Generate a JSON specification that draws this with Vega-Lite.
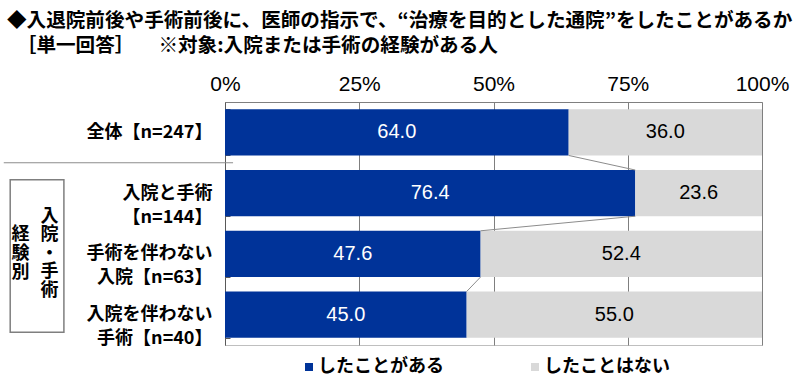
{
  "$schema": "https://vega.github.io/schema/vega-lite/v6.json",
  "width": 537,
  "height": 243,
  "autosize": {"type": "none"},
  "padding": {"left": 225, "top": 102, "right": 38, "bottom": 38},
  "background": "white",
  "title": {
    "text": ["◆入退院前後や手術前後に、医師の指示で、“治療を目的とした通院”をしたことがあるか", "\u200b　［単一回答］　\u2002 ※対象:入院または手術の経験がある人"],
    "anchor": "start",
    "frame": "group",
    "dx": -218,
    "font": "Noto Sans CJK JP",
    "fontSize": 19.6,
    "fontWeight": "bold",
    "color": "black",
    "lineHeight": 25,
    "offset": 16
  },
  "datasets": {
    "bars": [
      {"group": "全体【n=247】", "response": "したことがある", "value": 64.0, "order": 1},
      {"group": "全体【n=247】", "response": "したことはない", "value": 36.0, "order": 1},
      {"group": "入院と手術|【n=144】", "response": "したことがある", "value": 76.4, "order": 2},
      {"group": "入院と手術|【n=144】", "response": "したことはない", "value": 23.6, "order": 2},
      {"group": "手術を伴わない|入院【n=63】", "response": "したことがある", "value": 47.6, "order": 3},
      {"group": "手術を伴わない|入院【n=63】", "response": "したことはない", "value": 52.4, "order": 3},
      {"group": "入院を伴わない|手術【n=40】", "response": "したことがある", "value": 45.0, "order": 4},
      {"group": "入院を伴わない|手術【n=40】", "response": "したことはない", "value": 55.0, "order": 4}
    ]
  },
  "layer": [
    {
      "data": {"name": "bars"},
      "transform": [
        {"stack": "value", "groupby": ["group"], "sort": [{"field": "response", "order": "ascending"}], "as": ["x0", "x1"]},
        {"calculate": "(datum.x0 + datum.x1) / 2", "as": "mid"}
      ],
      "encoding": {
        "y": {
          "field": "group",
          "type": "nominal",
          "sort": {"field": "order", "op": "min"},
          "scale": {"paddingInner": 0.24, "paddingOuter": 0.12},
          "axis": {
            "orient": "left",
            "title": null,
            "domainColor": "#595959",
            "ticks": true,
            "tickBand": "extent",
            "tickSize": -5,
            "tickColor": "#595959",
            "labelExpr": "datum.value ? split(datum.value, '|') : ''",
            "labelFont": "Noto Sans CJK JP",
            "labelFontSize": 18,
            "labelFontWeight": "bold",
            "labelColor": "black",
            "labelPadding": 18,
            "labelLineHeight": 24,
            "labelLimit": 300,
            "grid": false
          }
        }
      },
      "layer": [
        {
          "mark": {"type": "bar"},
          "encoding": {
            "x": {
              "field": "x0",
              "type": "quantitative",
              "scale": {"domain": [0, 100], "nice": false},
              "axis": {
                "orient": "top",
                "title": null,
                "values": [0, 25, 50, 75, 100],
                "labelExpr": "datum.value + '%'",
                "ticks": false,
                "domainColor": "#7f7f7f",
                "grid": true,
                "gridColor": "#7f7f7f",
                "gridOpacity": 1,
                "labelFont": "Liberation Sans Narrow, Liberation Sans",
                "labelFontSize": 21,
                "labelColor": "black",
                "labelPadding": 8,
                "labelFlush": false
              }
            },
            "x2": {"field": "x1"},
            "color": {
              "field": "response",
              "type": "nominal",
              "scale": {"domain": ["したことがある", "したことはない"], "range": ["#003399", "#d9d9d9"]},
              "legend": {
                "orient": "none",
                "legendX": 75,
                "legendY": 256,
                "direction": "horizontal",
                "title": null,
                "symbolType": "square",
                "symbolSize": 64,
                "symbolStrokeWidth": 0,
                "labelFont": "Noto Sans CJK JP",
                "labelFontSize": 18,
                "labelFontWeight": "bold",
                "labelColor": "black",
                "labelOffset": 0,
                "columnPadding": 82,
                "labelLimit": 300
              }
            }
          }
        },
        {
          "mark": {"type": "text", "align": "center", "baseline": "middle", "font": "Liberation Sans Narrow, Liberation Sans", "fontSize": 20},
          "encoding": {
            "x": {"field": "mid", "type": "quantitative"},
            "text": {"field": "value", "type": "quantitative", "format": ".1f"},
            "color": {"condition": {"test": "datum.response === 'したことがある'", "value": "white"}, "value": "black"}
          }
        }
      ]
    },
    {
      "layer": [
        {
          "data": {"name": "bars"},
          "transform": [
            {"filter": "datum.response === 'したことがある'"},
            {"window": [{"op": "row_number", "as": "rn"}, {"op": "lead", "field": "value", "as": "next"}], "sort": [{"field": "order"}]},
            {"filter": "datum.next != null"},
            {"calculate": "datum.rn - 0.12", "as": "ya"},
            {"calculate": "datum.rn + 0.12", "as": "yb"}
          ],
          "mark": {"type": "rule", "color": "#8c8c8c", "strokeWidth": 1},
          "encoding": {
            "x": {"field": "value", "type": "quantitative", "scale": {"domain": [0, 100], "nice": false}, "axis": null},
            "x2": {"field": "next"},
            "y": {"field": "ya", "type": "quantitative", "scale": {"domain": [0, 4], "reverse": true, "nice": false, "zero": false}, "axis": null},
            "y2": {"field": "yb"}
          }
        },
        {
          "data": {"values": [{"name": "separator"}]},
          "mark": {"type": "rule", "color": "#8c8c8c", "strokeWidth": 1},
          "encoding": {
            "x": {"datum": -41.2, "type": "quantitative"},
            "x2": {"datum": 1.5},
            "y": {"datum": 1, "type": "quantitative"}
          }
        },
        {
          "data": {"values": [{"name": "box"}]},
          "mark": {"type": "rect", "fill": "transparent", "stroke": "#7f7f7f", "strokeWidth": 1.5},
          "encoding": {
            "x": {"datum": -40, "type": "quantitative"},
            "x2": {"datum": -30},
            "y": {"datum": 1.28, "type": "quantitative"},
            "y2": {"datum": 3.79}
          }
        },
        {
          "data": {"values": [{"t": "入\n院\n・\n手\n術"}]},
          "mark": {"type": "text", "lineBreak": "\n", "lineHeight": 18.5, "font": "Noto Sans CJK JP", "fontSize": 18, "fontWeight": "bold", "align": "center", "baseline": "top", "color": "black"},
          "encoding": {
            "x": {"datum": -32.7, "type": "quantitative"},
            "y": {"datum": 1.74, "type": "quantitative"},
            "text": {"field": "t"}
          }
        },
        {
          "data": {"values": [{"t": "経\n験\n別"}]},
          "mark": {"type": "text", "lineBreak": "\n", "lineHeight": 19, "font": "Noto Sans CJK JP", "fontSize": 18, "fontWeight": "bold", "align": "center", "baseline": "top", "color": "black"},
          "encoding": {
            "x": {"datum": -38.1, "type": "quantitative"},
            "y": {"datum": 2.04, "type": "quantitative"},
            "text": {"field": "t"}
          }
        }
      ]
    }
  ],
  "resolve": {"scale": {"x": "independent", "y": "independent"}, "axis": {"x": "independent", "y": "independent"}},
  "config": {
    "view": {"stroke": "#bfbfbf"}
  }
}
